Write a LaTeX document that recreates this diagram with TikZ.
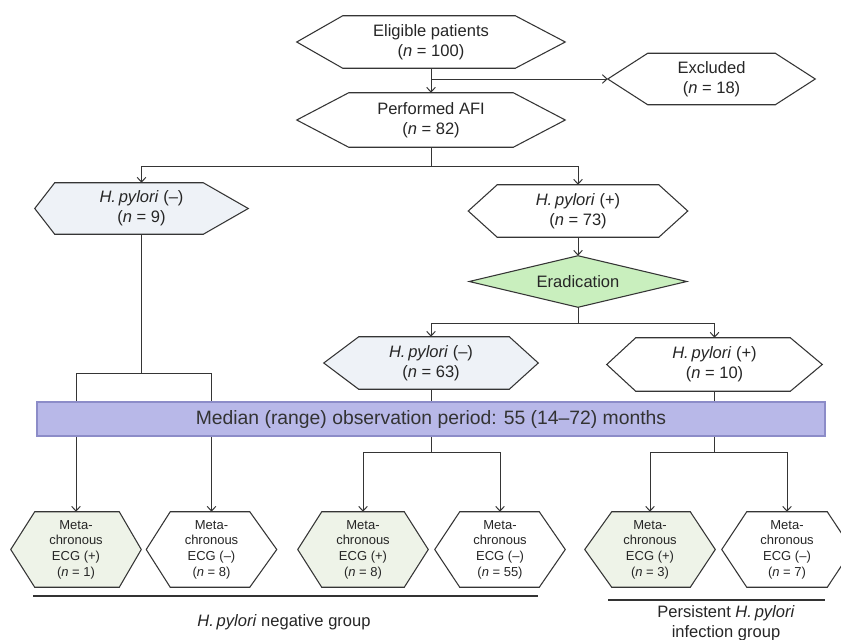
\documentclass[tikz,border=0pt]{standalone}
\usepackage{fontspec}
\setmainfont{Liberation Sans}
\usetikzlibrary{arrows.meta,backgrounds,calc}
\definecolor{linec}{HTML}{353535}
\definecolor{hpneg}{HTML}{EEF2F7}
\definecolor{ecgpos}{HTML}{EEF3E8}
\definecolor{eradc}{HTML}{C9EFBE}
\definecolor{bannerc}{HTML}{B8B8E8}
\definecolor{bannerb}{HTML}{8C8CC8}
\newcommand\hexshape[4]{%
  \filldraw[hexline,fill=#4] (#1.west) -- ([xshift=#2*0.75pt]#1.north west) -- ([xshift=-#3*0.75pt]#1.north east) -- (#1.east) -- ([xshift=-#3*0.75pt]#1.south east) -- ([xshift=#2*0.75pt]#1.south west) -- cycle;}
\begin{document}
\begin{tikzpicture}[x=0.75pt,y=-0.75pt,
  nbox/.style 2 args={inner sep=0pt, minimum width=#1*0.75pt, minimum height=#2*0.75pt, align=center, font=\fontsize{12.4}{15}\selectfont, text=black!85},
  ecg/.style={nbox={130}{75}, font=\fontsize{9.75}{11.8}\selectfont},
  hexline/.style={draw=linec, line width=0.8pt, line join=miter},
  conn/.style={draw=linec, line width=0.75pt},
  arr/.style={conn, -{Straight Barb[length=3.5pt,width=6.5pt]}},
  banner/.style={draw=bannerb, fill=bannerc, line width=1.2pt, inner sep=0pt, minimum width=788*0.75pt, minimum height=34*0.75pt, font=\fontsize{14.5}{17}\selectfont, text=black!80},
  grp/.style={draw=black!80, line width=1.9pt},
  glabel/.style={align=center, inner sep=0pt, font=\fontsize{12.4}{15}\selectfont, text=black!85},
]
\useasboundingbox (0,0) rectangle (841,639);

% nodes
\node[nbox={268}{52}] (elig) at (431,42) {Eligible patients\\(\textit{n} = 100)};
\node[nbox={268}{54}] (afi) at (431,120) {Performed AFI\\(\textit{n} = 82)};
\node[nbox={207}{51}] (excl) at (711.5,79) {Excluded\\(\textit{n} = 18)};
\node[nbox={213}{51}] (hpn9) at (141.5,208.5) {\textit{H.\,pylori} (–)\\(\textit{n} = 9)};
\node[nbox={219}{52}] (hpp73) at (578,211) {\textit{H.\,pylori} (+)\\(\textit{n} = 73)};
\node[nbox={217}{51}] (erad) at (578,281.5) {Eradication};
\node[nbox={214}{52}] (hpn63) at (431,363) {\textit{H.\,pylori} (–)\\(\textit{n} = 63)};
\node[nbox={215}{53}] (hpp10) at (714.5,364.5) {\textit{H.\,pylori} (+)\\(\textit{n} = 10)};

\node[ecg] (e1) at (76,549.5) {Meta-\\chronous\\ECG (+)\\(\textit{n} = 1)};
\node[ecg] (e2) at (211.5,549.5) {Meta-\\chronous\\ECG (–)\\(\textit{n} = 8)};
\node[ecg] (e3) at (363,549.5) {Meta-\\chronous\\ECG (+)\\(\textit{n} = 8)};
\node[ecg] (e4) at (500,549.5) {Meta-\\chronous\\ECG (–)\\(\textit{n} = 55)};
\node[ecg] (e5) at (650,549.5) {Meta-\\chronous\\ECG (+)\\(\textit{n} = 3)};
\node[ecg] (e6) at (787,549.5) {Meta-\\chronous\\ECG (–)\\(\textit{n} = 7)};

% shapes behind the text
\begin{scope}[on background layer]
  \fill[white] (0,0) rectangle (841,639);
  \hexshape{elig}{46}{50}{white}
  \hexshape{afi}{52}{52}{white}
  \hexshape{excl}{40}{40}{white}
  \hexshape{hpn9}{20}{45}{hpneg}
  \hexshape{hpp73}{29}{29}{white}
  \filldraw[hexline, fill=eradc] (erad.west) -- (erad.north) -- (erad.east) -- (erad.south) -- cycle;
  \hexshape{hpn63}{35}{29}{hpneg}
  \hexshape{hpp10}{29}{32}{white}
  \hexshape{e1}{24}{22}{ecgpos}
  \hexshape{e2}{24}{27}{white}
  \hexshape{e3}{24}{24}{ecgpos}
  \hexshape{e4}{25}{26}{white}
  \hexshape{e5}{27}{25}{ecgpos}
  \hexshape{e6}{25}{25}{white}
\end{scope}

% connectors
\draw[arr] (elig.south) -- (afi.north);
\coordinate (j1) at (elig.south |- excl.west);
\draw[arr] (j1) -- (excl.west);
\coordinate (j2) at ($(afi.south)+(0,19)$);
\draw[conn] (afi.south) -- (j2);
\draw[arr] (j2) -| (hpn9.north);
\draw[arr] (j2) -| (hpp73.north);
\draw[arr] (hpp73.south) -- (erad.north);
\coordinate (j3) at ($(erad.south)+(0,16)$);
\draw[conn] (erad.south) -- (j3);
\draw[arr] (j3) -| (hpn63.north);
\draw[arr] (j3) -| (hpp10.north);
\coordinate (j4) at ($(hpn9.south)+(0,139)$);
\draw[conn] (hpn9.south) -- (j4);
\draw[arr] (j4) -| (e1.north);
\draw[arr] (j4) -| (e2.north);
\coordinate (j5) at ($(hpn63.south)+(0,63)$);
\draw[conn] (hpn63.south) -- (j5);
\draw[arr] (j5) -| (e3.north);
\draw[arr] (j5) -| (e4.north);
\coordinate (j6) at ($(hpp10.south)+(0,61)$);
\draw[conn] (hpp10.south) -- (j6);
\draw[arr] (j6) -| (e5.north);
\draw[arr] (j6) -| (e6.north);

% banner over the connectors
\node[banner] (band) at (431,419) {Median (range) observation period: 55 (14–72) months};

% group lines and labels
\coordinate (g1a) at (33,596);
\coordinate (g1b) at (538,596);
\coordinate (g2a) at (608,600);
\coordinate (g2b) at (825,600);
\draw[grp] (g1a) -- (g1b);
\draw[grp] (g2a) -- (g2b);
\node[glabel] (lab1) at (284,622) {\textit{H.\,pylori} negative group};
\node[glabel] (lab2) at (726,623) {Persistent \textit{H.\,pylori}\\infection group};
\end{tikzpicture}
\end{document}
